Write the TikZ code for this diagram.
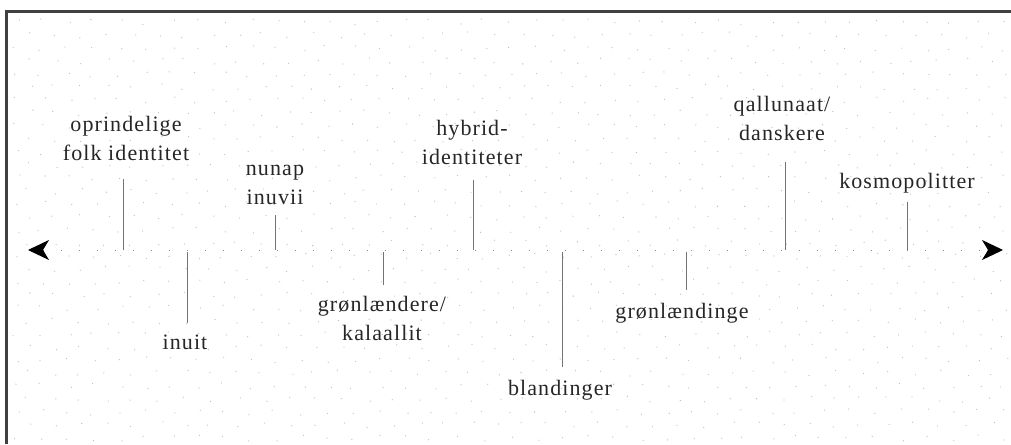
\documentclass[tikz,border=0pt]{standalone}
\usepackage{fontspec}
\setmainfont{Liberation Serif}[LetterSpace=5]
\usetikzlibrary{arrows.meta}
\begin{document}
\begin{tikzpicture}[x=1pt,y=-1pt,
  lbl/.style={font=\fontsize{22}{29}\selectfont, text=black!85, align=center, inner sep=0pt},
  tickline/.style={draw=black!55, line width=0.8pt},
  frameline/.style={draw=black!75, line width=3pt},
  axisline/.style={draw=black!45, line width=1pt, dash pattern=on 1.5pt off 16.5pt},
  axtip/.tip={Stealth[black, length=21pt, width=20pt, inset=6pt]},
  bgdot/.style={fill=black!25}]
\useasboundingbox (0,0) rectangle (1011,444);
% background dot texture
\pgfmathsetseed{17}
\foreach \j in {0,...,33}{
  \foreach \i in {0,...,38}{
    \pgfmathsetmacro{\dx}{26*\i + 13*mod(\j,2) + 16 + 4*rand}
    \pgfmathsetmacro{\dy}{13*\j + 22 + 3*rand}
    \fill[bgdot] (\dx,\dy) circle (0.65pt);
  }
}
% frame
\coordinate (fbl) at (6,444);
\coordinate (ftl) at (6,11.5);
\coordinate (ftr) at (1011,11.5);
\draw[frameline] (fbl) -- (ftl) -- (ftr);
% axis
\coordinate (L) at (28,250);
\coordinate (R) at (1003,250);
\draw[axisline, axtip-axtip] (L) -- (R);
% labels
\node[lbl] (n1) at (126,138) {oprindelige\\folk identitet};
\node[lbl] (n2) at (185,342) {inuit};
\node[lbl] (n3) at (275,185) {nunap\\inuvii};
\node[lbl] (n4) at (382,318) {grønlændere/\\kalaallit};
\node[lbl] (n5) at (472,142) {hybrid-\\identiteter};
\node[lbl] (n6) at (560,390) {blandinger};
\node[lbl] (n7) at (682,313) {grønlændinge};
\node[lbl] (n8) at (782,118) {qallunaat/\\danskere};
\node[lbl] (n9) at (907,183) {kosmopolitter};
% tick ends
\coordinate (t1) at (123,179); \coordinate (b1) at (123,250);
\coordinate (t2) at (187,252); \coordinate (b2) at (187,323);
\coordinate (t3) at (275,215); \coordinate (b3) at (275,250);
\coordinate (t4) at (383,252); \coordinate (b4) at (383,285);
\coordinate (t5) at (473,180); \coordinate (b5) at (473,250);
\coordinate (t6) at (562,252); \coordinate (b6) at (562,367);
\coordinate (t7) at (686,252); \coordinate (b7) at (686,290);
\coordinate (t8) at (785,162); \coordinate (b8) at (785,250);
\coordinate (t9) at (907,202); \coordinate (b9) at (907,250);
\foreach \k in {1,...,9}{\draw[tickline] (t\k) -- (b\k);}
\end{tikzpicture}
\end{document}
